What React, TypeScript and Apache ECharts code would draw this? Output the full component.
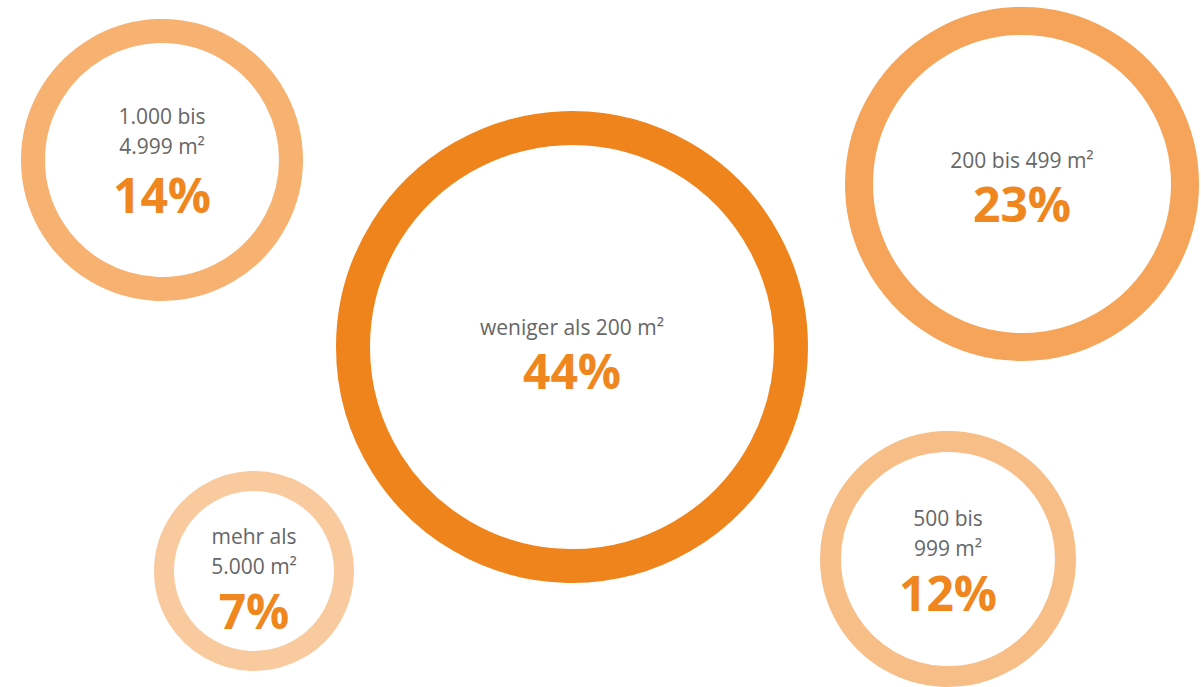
import React, { useEffect, useRef } from "react";
import * as echarts from "echarts";

// Data
const categoryLines: string[][] = [
  ["weniger als 200 m²"],
  ["200 bis 499 m²"],
  ["1.000 bis", "4.999 m²"],
  ["500 bis", "999 m²"],
  ["mehr als", "5.000 m²"],
];
const shares: number[] = [44, 23, 14, 12, 7];

// Layout (bubble centres in pixel-space axes, outer radius, ring width)
const centerX: number[] = [572, 1022, 162, 948, 254];
const centerY: number[] = [347, 184, 160, 559, 571];
const outerRadius: number[] = [236, 177, 141, 128, 100];
const ringWidth: number[] = [34, 28, 24, 21, 20];
const ringColors: string[] = ["#EF841C", "#F5A459", "#F7B170", "#F8BE88", "#F9CA9E"];
const labelOffsetY: number[] = [8, 4, 4, 3, 9];
const pctLineHeight: number[] = [56, 56, 66, 58, 58];

const nameStyle = {
  fontFamily: "Open Sans",
  fontSize: 21,
  color: "#666666",
  lineHeight: 30,
  align: "center",
};
const pctStyle = {
  fontFamily: "Open Sans",
  fontSize: 48,
  fontWeight: "bold",
  color: "#EF861E",
  align: "center",
};

export default function App() {
  const ref = useRef<HTMLDivElement>(null);
  useEffect(() => {
    if (!ref.current) return;
    const chart = echarts.init(ref.current, undefined, { renderer: "svg" });
    const data = shares.map((v, i) => ({
      name: categoryLines[i].join(" "),
      value: [centerX[i], centerY[i], v],
      symbolSize: 2 * (outerRadius[i] - ringWidth[i] / 2),
      itemStyle: {
        color: "#ffffff",
        borderColor: ringColors[i],
        borderWidth: ringWidth[i],
        opacity: 1,
      },
      label: {
        offset: [0, labelOffsetY[i]],
        rich: {
          name: nameStyle,
          pct: { ...pctStyle, lineHeight: pctLineHeight[i] },
        },
      },
    }));
    chart.setOption({
      animation: false,
      backgroundColor: "#ffffff",
      grid: { left: 0, right: 0, top: 0, bottom: 0 },
      xAxis: { type: "value", min: 0, max: 1201, show: false },
      yAxis: { type: "value", min: 0, max: 687, inverse: true, show: false },
      series: [
        {
          type: "scatter",
          symbol: "circle",
          data,
          itemStyle: { opacity: 1 },
          label: {
            show: true,
            position: "inside",
            align: "center",
            verticalAlign: "middle",
            formatter: (p: any) => {
              const i = p.dataIndex;
              const lines = categoryLines[i].map((l) => `{name|${l}}`).join("\n");
              return `${lines}\n{pct|${shares[i]}%}`;
            },
            rich: {
              name: nameStyle,
              pct: { ...pctStyle, lineHeight: 56 },
            },
          },
          emphasis: { disabled: true },
        },
      ],
    });
    return () => chart.dispose();
  }, []);
  return (
    <div
      ref={ref}
      style={{ position: "fixed", left: 0, top: 0, width: 1201, height: 687 }}
    />
  );
}
